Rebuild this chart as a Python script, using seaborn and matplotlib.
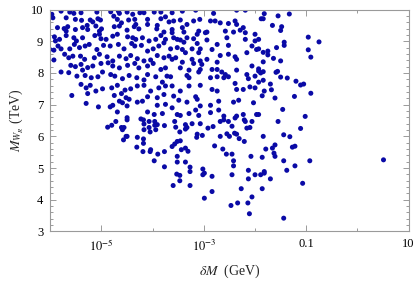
import numpy as np
import pandas as pd
import matplotlib
matplotlib.use("Agg")
import matplotlib.pyplot as plt
import seaborn as sns
from matplotlib.ticker import FixedLocator, FixedFormatter, MultipleLocator, NullFormatter

# ---- data (log10 of deltaM in GeV, M_WR in TeV) ----
log10_dM_GeV = [
    # upper-left block
    -5.79,-5.62,-5.54,-5.40,-5.09,-4.82,-4.67,-4.65,-4.50,-4.39,-4.25,-4.17,-3.97,-3.84,-5.97,
    -5.95,-5.69,-5.51,-5.39,-5.22,-5.17,-5.07,-5.02,-4.76,-4.69,-4.61,-4.47,-4.35,-4.33,-4.10,-3.84,-3.75,
    -5.86,-5.73,-5.66,-5.69,-5.51,-5.37,-5.28,-5.27,-5.11,-5.04,-5.00,-4.75,-4.65,-4.50,-4.36,-4.27,-4.10,-3.92,-3.78,-3.91,
    -5.92,-5.82,-5.90,-5.69,-5.54,-5.49,-5.37,-5.13,-5.04,-5.01,-4.91,-4.78,-4.69,-4.49,-4.39,-4.33,-4.20,-4.07,-3.84,-3.75,-3.94,
    -5.85,-5.79,-5.93,-5.62,-5.53,-5.43,-5.32,-5.24,-5.09,-4.96,-4.83,-4.67,-4.56,-4.41,-4.35,-4.22,-4.10,-3.99,-3.88,-3.78,-6.01,
    -5.93,-5.72,-5.64,-5.56,-5.41,-5.33,-5.14,-5.04,-4.89,-4.78,-4.65,-4.52,-4.43,-4.30,-4.17,-4.04,-3.91,-3.78,
    -5.60,-5.51,-5.40,-5.37,-5.27,-5.17,-5.01,-4.87,-4.78,-4.65,-4.49,-4.35,-4.27,-4.10,-3.99,-3.84,-3.75,
    -5.79,-5.64,-5.48,-5.32,-5.20,-5.07,-4.98,-4.82,-4.74,-4.59,-4.46,-4.31,-4.17,-4.10,-3.94,-3.81,-3.72,
    -5.40,-5.30,-5.22,-5.11,-4.98,-4.80,-4.69,-4.54,-4.43,-4.30,-4.17,-4.04,-3.88,-3.75,
    -5.58,-5.27,-4.75,-4.61,-4.52,-4.65,-4.46,-4.30,-4.20,-4.10,-3.91,-3.78,
    -5.30,-5.06,-4.83,-4.78,-4.69,-4.59,-4.10,-3.91,-3.75,-4.50,
    -4.50,-3.97,-3.81,-4.23,
    # upper-middle block
    -3.62,-3.42,-3.16,-2.81,-2.36,-2.19,
    -3.68,-3.59,-3.46,-3.33,-3.20,-3.08,-2.87,-2.78,-2.68,-2.52,-2.39,-2.36,-2.23,
    -3.62,-3.62,-3.42,-3.39,-3.13,-3.10,-2.97,-2.94,-2.58,-2.42,-2.29,-2.19,-2.00,
    -3.59,-3.52,-3.46,-3.39,-3.33,-3.20,-3.13,-2.94,-2.74,-2.55,-2.52,-2.19,-2.06,-2.00,
    -3.65,-3.52,-3.42,-3.36,-3.23,-3.10,-3.07,-2.84,-2.68,-2.52,-2.39,-2.16,-1.97,
    -3.68,-3.62,-3.55,-3.42,-3.23,-3.20,-3.07,-3.04,-2.94,-2.74,-2.36,
    -3.46,-3.29,-3.07,-3.10,-2.84,-2.74,-2.65,-2.58,-2.36,-2.16,-2.06,
    -3.65,-3.33,-3.29,-2.87,-2.74,-2.61,-2.52,-2.39,-2.13,-2.00,
    -3.62,-3.46,-3.29,-3.07,-2.84,-2.74,-2.36,-2.23,-2.10,-2.00,
    -3.59,-3.49,-3.33,-3.16,-3.13,-3.07,-2.87,-2.71,-2.42,-2.32,-2.03,
    -3.62,-3.52,-3.46,-3.29,-3.16,-3.10,-2.87,-2.71,-2.61,-2.36,-2.23,-1.97,
    # upper-right edge of the cloud
    -1.82,-1.88,-1.84,-1.55,-1.66,-1.48,-1.50,-1.43,-1.43,-1.58,-1.93,-1.84,-1.75,-1.75,-1.64,-1.50,-1.84,
    -1.93,-1.59,-1.56,-1.93,-1.89,-1.84,-1.50,-1.84,-1.93,-1.70,-1.82,-1.68,-1.86,-1.61,-1.46,-1.93,-1.93,
    -1.33,-0.96,-0.75,-0.96,-0.91,-1.37,-1.20,-1.11,-1.05,-0.91,-1.23,-1.02,
    # lower-right
    -1.11,-1.32,-1.27,-1.22,-0.93,0.51,-1.22,-1.07,
    # lower-left
    -4.88,-4.80,-4.72,-4.61,-4.59,-4.56,-4.50,-4.52,-4.50,-4.57,-4.30,-4.18,-4.17,-4.07,-3.96,-4.07,
    -3.96,-3.91,-3.77,-4.17,-4.05,-3.94,-4.18,-4.18,-4.31,-4.19,-4.05,-4.04,-3.90,-3.97,-3.77,-3.77,
    # lower-middle
    -3.57,-3.55,-3.47,-3.36,-3.36,-3.33,-3.23,-3.07,-2.92,-2.82,-2.68,-2.61,-2.52,-2.45,-2.39,-2.21,
    -2.19,-2.06,-2.16,-2.10,-1.55,-3.13,-3.14,-3.03,-2.68,-2.55,-2.50,-2.40,-2.36,-2.31,-2.21,-1.84,
    -1.44,-3.62,-3.57,-3.52,-3.46,-3.44,-3.36,-3.31,-2.79,-2.63,-2.56,-2.45,-1.79,-1.66,-1.61,-1.63,
    -1.61,-3.52,-3.52,-3.36,-3.27,-3.27,-2.42,-2.42,-2.08,-1.86,-1.44,-1.38,-3.53,-3.47,-3.47,-3.02,
    -3.02,-2.99,-2.84,-2.45,-2.13,-2.13,-2.00,-1.89,-1.82,-1.82,-1.70,-3.60,-3.27,-2.84,-2.99,-2.27,
    -1.86,-2.06,-2.14,-2.47,-2.34,-2.11,-1.44,
]

M_WR_TeV = [
    # upper-left block
    9.95,9.92,9.88,9.90,9.92,9.93,9.95,9.88,9.92,9.85,9.90,9.90,9.92,9.92,9.85,
    9.74,9.74,9.69,9.66,9.67,9.61,9.71,9.67,9.79,9.69,9.58,9.67,9.69,9.53,9.69,9.71,9.77,
    9.43,9.40,9.46,9.32,9.37,9.43,9.50,9.37,9.48,9.32,9.39,9.46,9.48,9.35,9.46,9.39,9.53,9.39,9.29,9.50,
    9.14,9.06,9.01,9.18,9.11,9.01,9.11,9.18,9.22,9.08,9.06,9.16,9.22,9.14,9.11,9.06,9.11,9.01,9.18,9.06,9.06,
    8.85,8.76,8.72,8.76,8.90,8.80,8.85,8.90,8.74,8.87,8.85,8.90,8.76,8.93,8.85,8.87,8.69,8.76,8.85,8.95,8.74,
    8.41,8.59,8.48,8.53,8.53,8.43,8.48,8.59,8.51,8.38,8.53,8.45,8.55,8.45,8.38,8.41,8.55,8.48,
    8.24,8.20,8.27,8.09,8.17,8.22,8.30,8.32,8.22,8.16,8.24,8.30,8.16,8.22,8.30,8.11,8.16,
    8.03,8.01,7.90,7.92,7.85,7.88,8.03,7.95,7.90,7.82,7.92,7.85,7.78,7.95,7.88,7.71,7.90,
    7.64,7.53,7.61,7.43,7.50,7.53,7.61,7.46,7.50,7.59,7.61,7.43,7.53,7.59,
    7.29,7.35,7.29,7.35,7.22,7.11,7.17,7.08,7.11,7.25,7.22,7.32,
    7.04,6.93,6.93,6.98,6.77,7.06,6.77,6.98,7.01,6.96,
    6.59,6.69,6.72,6.55,
    # upper-middle block
    9.90,9.95,9.98,9.88,9.98,9.98,
    9.61,9.64,9.67,9.53,9.64,9.69,9.64,9.64,9.58,9.56,9.64,9.53,9.43,
    9.37,9.27,9.43,9.29,9.22,9.32,9.27,9.29,9.32,9.29,9.35,9.27,9.22,
    9.11,9.06,9.04,8.97,9.11,9.08,8.93,9.04,8.90,9.11,8.87,9.06,8.85,9.01,
    8.76,8.80,8.74,8.64,8.76,8.64,8.76,8.74,8.55,8.59,8.51,8.64,8.74,
    8.53,8.43,8.48,8.34,8.43,8.30,8.38,8.27,8.43,8.34,8.43,
    8.16,8.09,8.11,8.03,8.11,8.11,8.03,7.95,8.09,7.95,8.22,
    7.88,7.92,7.85,7.85,7.88,7.85,7.88,7.67,7.82,7.90,
    7.59,7.43,7.59,7.61,7.48,7.43,7.48,7.48,7.56,7.53,
    7.27,7.14,7.08,7.25,7.17,6.96,6.98,7.11,7.08,7.14,7.06,
    6.90,6.69,6.66,6.72,6.83,6.66,6.75,6.83,6.64,6.64,6.69,6.69,
    # upper-right edge of the cloud
    9.87,9.71,9.71,9.80,9.50,9.46,9.34,8.97,8.87,8.80,8.76,8.65,8.69,8.57,8.46,8.38,8.35,
    8.13,8.02,8.05,8.06,8.00,8.04,7.87,7.77,7.71,7.65,7.43,7.47,7.28,7.21,6.85,6.69,9.06,
    9.86,9.13,8.98,8.73,8.50,7.84,7.74,7.62,7.65,7.36,7.26,6.63,
    # lower-right
    6.25,5.99,5.66,5.69,5.23,5.26,5.07,4.52,
    # lower-left
    6.29,6.35,6.47,6.28,6.21,6.28,6.52,6.00,6.00,5.89,5.97,6.52,6.39,6.47,6.47,6.28,
    6.35,6.37,6.34,6.21,6.14,6.21,5.92,5.78,5.66,5.52,5.52,5.58,5.44,5.23,5.52,5.04,
    # lower-middle
    6.47,6.29,6.14,6.37,6.23,6.28,6.40,6.40,6.26,6.31,6.47,6.52,6.47,6.32,6.58,6.52,
    6.47,6.47,6.26,6.28,6.47,6.07,5.97,6.03,6.00,6.08,6.00,6.10,6.07,5.93,5.84,6.00,
    6.05,5.68,5.76,5.84,5.86,5.58,5.63,5.53,5.70,5.60,5.44,5.44,5.60,5.63,5.73,5.47,
    5.37,5.37,5.19,5.19,5.03,4.89,5.23,5.07,5.37,5.34,5.23,4.93,4.81,4.77,4.60,4.97,
    4.79,4.84,4.74,4.79,4.93,4.66,4.79,4.79,4.89,4.84,4.66,4.45,4.45,4.26,4.05,4.35,
    4.35,4.09,3.90,3.82,3.90,3.56,3.42,
]

assert len(log10_dM_GeV) == len(M_WR_TeV)

x_major_ticks = [1e-5, 1e-3, 1e-1, 10]
x_major_labels = [r"$10^{-5}$", r"$10^{-3}$", "0.1", "10"]
x_minor_ticks = [1e-6, 1e-4, 1e-2, 1]
y_major_ticks = [3, 4, 5, 6, 7, 8, 9, 10]

df = pd.DataFrame({"dM": 10.0 ** np.array(log10_dM_GeV), "MWR": M_WR_TeV})

sns.set_style("ticks")
plt.rcParams["font.family"] = ["Liberation Serif", "DejaVu Serif"]
plt.rcParams["mathtext.fontset"] = "stix"

fig = plt.figure(figsize=(4.2, 2.86), dpi=100)
ax = fig.add_axes([0.1198, 0.1906, 0.853, 0.776])

sns.scatterplot(data=df, x="dM", y="MWR", ax=ax, s=13, color="#0a0aa6",
                edgecolor="none", linewidth=0, legend=False)

ax.set_xscale("log")
ax.set_xlim(1e-6, 10)
ax.set_ylim(3, 10)

ax.xaxis.set_major_locator(FixedLocator(x_major_ticks))
ax.xaxis.set_major_formatter(FixedFormatter(x_major_labels))
ax.xaxis.set_minor_locator(FixedLocator(x_minor_ticks))
ax.xaxis.set_minor_formatter(NullFormatter())
ax.yaxis.set_major_locator(FixedLocator(y_major_ticks))
ax.yaxis.set_minor_locator(MultipleLocator(0.2))

for sp in ax.spines.values():
    sp.set_color("#9a9a9a")
    sp.set_linewidth(0.8)

ax.tick_params(which="both", direction="in", top=True, right=True,
               color="#9a9a9a", width=0.7, labelsize=9, labelcolor="black")
ax.tick_params(which="major", length=4.5, pad=5)
ax.tick_params(which="minor", length=2.5)

ax.set_xlabel(r"$\delta M$  (GeV)", fontsize=10, labelpad=6)
ax.set_ylabel(r"$M_{W_R}$ (TeV)", fontsize=10, labelpad=4)

fig.savefig("out.png", dpi=100)
